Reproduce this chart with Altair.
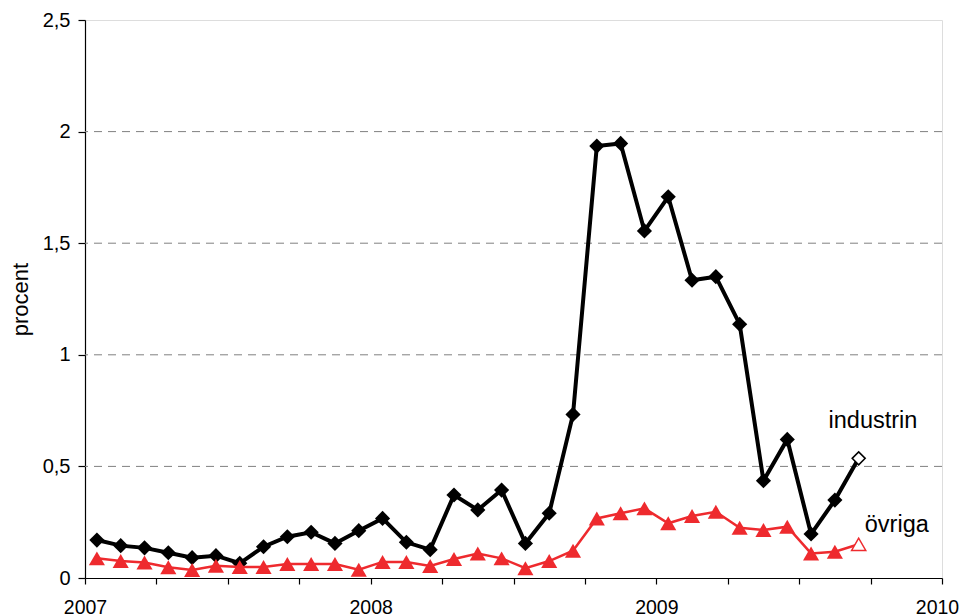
import altair as alt
import pandas as pd

# Monthly observations, Jan 2007 – Sep 2009
months = [f"{y}-{m:02d}" for y in (2007, 2008, 2009) for m in range(1, 13)][:33]

industrin = [0.17, 0.145, 0.135, 0.113, 0.091, 0.10, 0.066, 0.14, 0.185, 0.205,
             0.155, 0.212, 0.267, 0.16, 0.127, 0.372, 0.305, 0.394, 0.155, 0.29,
             0.733, 1.935, 1.947, 1.555, 1.708, 1.334, 1.35, 1.137, 0.436, 0.621,
             0.197, 0.349, 0.536]

ovriga = [0.088, 0.076, 0.069, 0.048, 0.036, 0.055, 0.049, 0.049, 0.063, 0.063,
          0.063, 0.037, 0.072, 0.072, 0.054, 0.085, 0.11, 0.088, 0.044, 0.076,
          0.122, 0.267, 0.29, 0.312, 0.245, 0.278, 0.297, 0.225, 0.215, 0.23,
          0.11, 0.118, 0.151]

grid_values = [0.5, 1.0, 1.5, 2.0]
y_ticks = [0, 0.5, 1.0, 1.5, 2.0, 2.5]
x_ticks = list(range(0, 37, 3))  # quarterly ticks, months since Jan 2007

labels = ["industrin", "övriga"]
label_x = [33.1, 34.1]
label_y = [0.672, 0.206]

FONT = "Liberation Sans"
RED = "#ee2a2e"

rows = []
for i, m in enumerate(months):
    y, mo = m.split("-")
    pos = (int(y) - 2007) * 12 + int(mo) - 1 + 0.5
    last = i == len(months) - 1
    rows.append({"month": m, "pos": pos, "serie": "industrin", "value": industrin[i], "last": last})
    rows.append({"month": m, "pos": pos, "serie": "övriga", "value": ovriga[i], "last": last})
df = pd.DataFrame(rows)

x_scale = alt.Scale(domain=[0, 36], nice=False, zero=False)
y_scale = alt.Scale(domain=[0, 2.5], nice=False)

x_enc = alt.X("pos:Q", scale=x_scale, axis=alt.Axis(
    values=x_ticks, title=None, grid=False,
    labelExpr="datum.value % 12 == 0 ? '' + (2007 + datum.value / 12) : ''",
    labelFontSize=19.5, labelFont=FONT, labelColor="black", labelFlush=False,
    labelOffset={"condition": {"test": "datum.value == 36", "value": -5}, "value": 0},
    labelPadding=14, tickSize=6, tickColor="black", domainColor="black",
    domainWidth=1.2, tickWidth=1.2))
y_enc = alt.Y("value:Q", scale=y_scale, axis=alt.Axis(
    values=y_ticks, title="procent", grid=False,
    labelExpr="replace(format(datum.value, '.1~f'), '.', ',')",
    labelFontSize=20, labelFont=FONT, labelColor="black", labelPadding=8,
    tickSize=7, tickColor="black", domainColor="black", domainWidth=1.2,
    tickWidth=1.2, titleFont=FONT, titleFontSize=22, titleFontWeight="normal",
    titleColor="black", titlePadding=10))

base = alt.Chart(df)

grid = alt.Chart(pd.DataFrame({"g": grid_values})).mark_rule(
    color="#808080", strokeDash=[8, 6], strokeWidth=1
).encode(y=alt.Y("g:Q", scale=y_scale))

ind = base.transform_filter(alt.datum.serie == "industrin")
ovr = base.transform_filter(alt.datum.serie == "övriga")

ind_line = ind.mark_line(color="black", strokeWidth=4).encode(x=x_enc, y=y_enc)
ind_pts = ind.transform_filter(~alt.datum.last).mark_point(
    shape="diamond", filled=True, size=230, color="black", opacity=1
).encode(x="pos:Q", y="value:Q")
ind_last = ind.transform_filter(alt.datum.last).mark_point(
    shape="diamond", filled=True, fill="white", stroke="black", strokeWidth=1.5,
    size=170, opacity=1
).encode(x="pos:Q", y="value:Q")

ovr_line = ovr.mark_line(color=RED, strokeWidth=2.5).encode(x="pos:Q", y="value:Q")
ovr_pts = ovr.transform_filter(~alt.datum.last).mark_point(
    shape="triangle-up", filled=True, size=260, color=RED, opacity=1
).encode(x="pos:Q", y="value:Q")
ovr_last = ovr.transform_filter(alt.datum.last).mark_point(
    shape="triangle-up", filled=True, fill="white", stroke=RED, strokeWidth=1.5,
    size=200, opacity=1
).encode(x="pos:Q", y="value:Q")

text = alt.Chart(pd.DataFrame({"t": labels, "x": label_x, "y": label_y})).mark_text(
    font=FONT, fontSize=23.5, color="black", align="center", baseline="alphabetic"
).encode(x=alt.X("x:Q", scale=x_scale), y=alt.Y("y:Q", scale=y_scale), text="t:N")

chart = alt.layer(
    grid, ind_line, ind_pts, ind_last, ovr_line, ovr_pts, ovr_last, text
).properties(
    width=857, height=558,
    autosize=alt.AutoSizeParams(type="none"),
    padding={"left": 77, "top": 12, "right": 17, "bottom": 40},
).configure_view(stroke="black", strokeWidth=1.2).configure(background="white")

chart.save("out.html", embed_options={"renderer": "svg", "actions": False})
